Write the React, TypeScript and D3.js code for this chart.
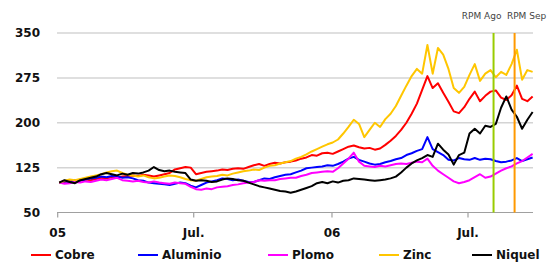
import React from "react";
import * as d3 from "d3";

const yTicks = [50, 125, 200, 275, 350];
const xTickLabels = ["05", "Jul.", "06", "Jul."];
const xTickDates = [new Date(2005, 0, 1), new Date(2005, 6, 1), new Date(2006, 0, 1), new Date(2006, 6, 1)];
const seriesNames = ["Cobre", "Aluminio", "Plomo", "Zinc", "Niquel"];
const seriesColors = ["#ff0000", "#0000ff", "#ff00ff", "#ffc600", "#000000"];
const markerLabels = ["RPM Ago", "RPM Sep"];
const markerDates = [new Date(2006, 7, 4), new Date(2006, 8, 1)];
const markerColors = ["#99cc00", "#ff9900"];

const cobre = [100, 101, 103, 102, 104, 105, 104, 106, 108, 107, 109, 108, 110, 111, 112, 111, 113, 112, 110, 112, 114, 116, 122, 124, 126, 125, 114, 116, 118, 119, 120, 122, 121, 123, 124, 123, 126, 129, 131, 128, 131, 133, 132, 134, 135, 137, 140, 142, 146, 145, 149, 150, 148, 152, 156, 160, 162, 159, 157, 158, 155, 157, 163, 170, 178, 188, 200, 215, 232, 255, 278, 258, 266, 250, 235, 219, 216, 226, 240, 252, 236, 245, 252, 254, 242, 238, 246, 262, 240, 236, 244];
const aluminio = [100, 102, 101, 104, 103, 105, 107, 108, 110, 109, 111, 110, 108, 109, 107, 104, 103, 100, 99, 98, 97, 96, 98, 100, 99, 95, 92, 96, 100, 102, 104, 107, 106, 104, 105, 103, 101, 101, 104, 107, 106, 109, 111, 113, 114, 117, 120, 124, 125, 126, 127, 129, 128, 131, 135, 140, 143, 138, 135, 132, 130, 131, 134, 136, 139, 141, 146, 149, 153, 156, 176, 156, 151, 146, 138, 137, 141, 139, 138, 141, 138, 140, 139, 136, 134, 135, 137, 141, 136, 139, 142];
const plomo = [100, 98, 99, 101, 100, 102, 101, 103, 105, 104, 106, 108, 104, 103, 102, 103, 101, 100, 102, 100, 99, 98, 100, 99, 98, 93, 89, 88, 90, 89, 92, 93, 94, 96, 97, 99, 100, 101, 104, 103, 104, 104, 106, 107, 108, 108, 111, 113, 116, 117, 118, 119, 118, 124, 132, 140, 150, 135, 128, 127, 126, 128, 127, 129, 131, 132, 131, 133, 135, 134, 140, 128, 120, 114, 108, 102, 99, 101, 104, 109, 114, 108, 110, 115, 120, 124, 127, 132, 136, 142, 148];
const zinc = [100, 103, 105, 104, 106, 108, 110, 112, 114, 117, 119, 120, 116, 113, 112, 110, 112, 109, 107, 108, 110, 112, 111, 109, 106, 104, 103, 106, 109, 110, 111, 113, 112, 115, 117, 119, 120, 122, 121, 125, 128, 129, 132, 134, 136, 140, 143, 147, 152, 156, 160, 164, 167, 172, 182, 193, 205, 198, 176, 188, 200, 193, 206, 215, 228, 245, 262, 278, 290, 282, 330, 282, 325, 314, 290, 258, 250, 260, 280, 298, 270, 282, 288, 276, 285, 280, 298, 322, 272, 288, 285];
const niquel = [100, 104, 101, 99, 104, 106, 108, 110, 114, 116, 114, 112, 115, 113, 116, 115, 117, 120, 126, 121, 119, 120, 118, 117, 116, 105, 103, 104, 103, 101, 102, 105, 107, 106, 104, 103, 100, 97, 94, 92, 90, 88, 86, 85, 83, 85, 88, 91, 94, 99, 101, 99, 102, 100, 103, 104, 107, 106, 105, 104, 103, 104, 105, 107, 110, 117, 125, 132, 137, 141, 146, 143, 165, 155, 147, 130, 146, 150, 182, 190, 182, 195, 193, 198, 225, 244, 222, 210, 190, 205, 218];

const seriesValues = [cobre, aluminio, plomo, zinc, niquel];
const startDate = new Date(2005, 0, 3);

export default function App() {
  const W = 554;
  const H = 271;
  const x = d3.scaleTime().domain([xTickDates[0], xTickDates[3]]).range([57.7, 468]);
  const y = d3.scaleLinear().domain([50, 350]).range([212.5, 33]);
  const xLeft = 57;
  const xRight = 533;
  const dateAt = (i: number) => d3.timeDay.offset(startDate, i * 7);
  const line = d3
    .line<number>()
    .x((_, i) => x(dateAt(i)))
    .y((v) => y(v));

  const legendX = [31, 138, 268, 379, 472];
  const font = "'DejaVu Sans', Verdana, sans-serif";

  return (
    <svg width={W} height={H} style={{ position: "absolute", left: 0, top: 0, background: "#fff" }}>
      {yTicks.map((t) =>
        t === 50 ? null : (
          <line key={t} x1={xLeft} x2={xRight} y1={y(t)} y2={y(t)} stroke="#d4d4d4" strokeWidth={1.5} />
        )
      )}
      {yTicks.map((t) => (
        <text key={"l" + t} x={40} y={y(t) + 4} textAnchor="end" fontFamily={font} fontWeight="bold" fontSize={12} fill="#111">
          {t}
        </text>
      ))}
      <line x1={xLeft} x2={xRight} y1={y(50)} y2={y(50)} stroke="#a0a0a0" strokeWidth={1.2} />
      {xTickDates.map((d, i) => (
        <g key={"x" + i}>
          <line x1={x(d)} x2={x(d)} y1={y(50)} y2={y(50) + 5} stroke="#a0a0a0" strokeWidth={1.2} />
          <text x={x(d)} y={237} textAnchor="middle" fontFamily={font} fontWeight="bold" fontSize={12} fill="#111">
            {xTickLabels[i]}
          </text>
        </g>
      ))}
      {seriesValues.map((vals, si) => (
        <path key={seriesNames[si]} d={line(vals) || ""} fill="none" stroke={seriesColors[si]} strokeWidth={2} strokeLinejoin="round" />
      ))}
      {markerDates.map((d, i) => (
        <line key={"m" + i} x1={x(d)} x2={x(d)} y1={y(350)} y2={y(50)} stroke={markerColors[i]} strokeWidth={2} />
      ))}
      <text x={x(markerDates[0]) - 12} y={19} textAnchor="middle" fontFamily={font} fontSize={9} fill="#444">
        {markerLabels[0]}
      </text>
      <text x={x(markerDates[1]) + 12} y={19} textAnchor="middle" fontFamily={font} fontSize={9} fill="#444">
        {markerLabels[1]}
      </text>
      {seriesNames.map((n, i) => (
        <g key={"lg" + n}>
          <line x1={legendX[i]} x2={legendX[i] + 20} y1={255} y2={255} stroke={seriesColors[i]} strokeWidth={2} />
          <text x={legendX[i] + 24} y={259} fontFamily={font} fontWeight="bold" fontSize={12} fill="#111">
            {n}
          </text>
        </g>
      ))}
    </svg>
  );
}
